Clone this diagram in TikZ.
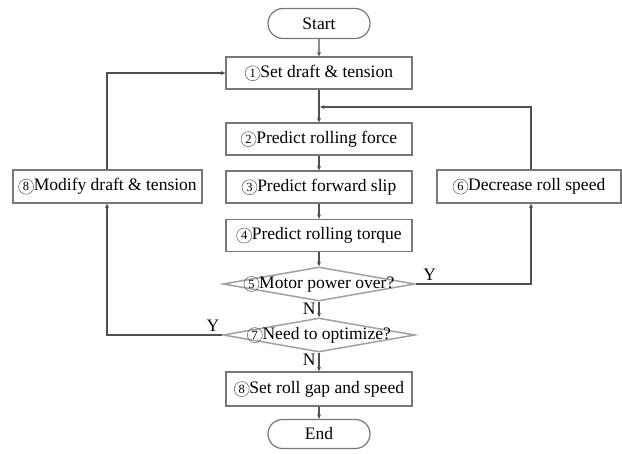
\documentclass[tikz,border=0pt]{standalone}
\usepackage{fontspec}
\setmainfont{Liberation Serif}
\usetikzlibrary{shapes.geometric,shapes.misc,arrows.meta}
\newcommand{\cn}[1]{\tikz[baseline=(cnn.base)]\node[circle,draw=black!65,line width=0.5pt,inner sep=0pt,minimum size=15pt,font=\fontsize{12.5pt}{12.5pt}\selectfont](cnn){#1};}
\definecolor{ln}{HTML}{505050}
\definecolor{bx}{HTML}{777777}
\tikzset{
  box/.style={draw=bx, line width=1.3pt, rectangle, minimum height=32pt, inner sep=0pt, font=\fontsize{17.5pt}{18pt}\selectfont},
  term/.style={draw=bx, line width=1.2pt, rounded rectangle, minimum width=102pt, minimum height=30pt, inner sep=0pt, font=\fontsize{17.5pt}{18pt}\selectfont},
  dia/.style={draw=bx!70, line width=1.5pt, diamond, minimum width=192pt, minimum height=34pt, inner sep=0pt},
  lbl/.style={inner sep=0pt, font=\fontsize{17.5pt}{18pt}\selectfont},
  conn/.style={draw=ln, line width=1.2pt},
  arr/.style={conn, -{Stealth[length=4.5pt,width=4pt]}},
}
\begin{document}
\begin{tikzpicture}[x=1pt,y=-1pt]
\useasboundingbox (0,0) rectangle (622,454);
\node[term] (start) at (319,23.5) {Start};
\node[box, minimum width=186pt] (b1) at (319,73) {\cn{1}Set draft \& tension};
\node[box, minimum width=186pt] (b2) at (319,139) {\cn{2}Predict rolling force};
\node[box, minimum width=186pt] (b3) at (319,187) {\cn{3}Predict forward slip};
\node[box, minimum width=186pt] (b4) at (319,235.5) {\cn{4}Predict rolling torque};
\node[dia] (d5) at (319,284) {};
\node[lbl] (t5) at (d5) {\cn{5}Motor power over?};
\node[dia] (d7) at (319,335) {};
\node[lbl] (t7) at (d7) {\cn{7}Need to optimize?};
\node[box, minimum width=186pt, minimum height=34pt] (b8) at (319,389) {\cn{8}Set roll gap and speed};
\node[term, minimum height=29pt] (end) at (319,434) {End};
\node[box, minimum width=189pt, minimum height=33pt] (left) at (107.5,186.5) {\cn{8}Modify draft \& tension};
\node[box, minimum width=184pt, minimum height=33pt] (right) at (529,186.5) {\cn{6}Decrease roll speed};
\coordinate (j) at (320,107);
\coordinate (rc) at (531,284);
\coordinate (lc) at (107,335);
\draw[arr] (start) -- (b1);
\draw[arr] (b1) -- (b2);
\draw[arr] (b2) -- (b3);
\draw[arr] (b3) -- (b4);
\draw[arr] (b4) -- (d5.north);
\draw[arr] (d5.south) -- node[lbl, pos=0.45, left=3pt] {N} (d7.north);
\draw[arr] (d7.south) -- node[lbl, pos=0.4, left=3pt] {N} (b8);
\draw[arr] (b8) -- (end);
\draw[arr] (d5.east) -- node[lbl, pos=0.12, above=3pt] {Y} (rc) -- (right.south -| rc);
\draw[arr] (right.north -| rc) |- (j);
\draw[arr] (d7.west) -- node[lbl, pos=0.08, above=3pt] {Y} (lc) -- (left.south -| lc);
\draw[arr] (left.north -| lc) |- (b1.west);
\end{tikzpicture}
\end{document}
